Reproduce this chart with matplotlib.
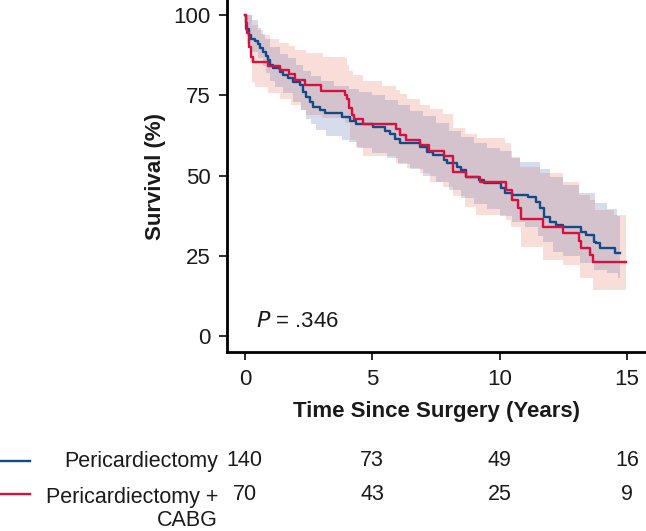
import numpy as np
import matplotlib
matplotlib.use("Agg")
import matplotlib.pyplot as plt
from matplotlib.lines import Line2D
from matplotlib.transforms import blended_transform_factory

plt.rcParams['font.family'] = ['Liberation Sans', 'DejaVu Sans']

# ---------------- data ----------------
blue_t = [0, 0.03, 0.065, 0.17, 0.26, 0.39, 0.52, 0.615, 0.72, 0.82, 0.92, 0.98, 1.09, 1.37, 1.5, 1.7, 1.9,
          2.16, 2.29, 2.42, 2.55, 2.68, 2.95, 3.14, 3.8, 4.12, 4.35, 5.03, 5.5, 5.69, 5.89, 6.1, 6.88, 7.15,
          7.4, 7.8, 7.95, 8.32, 8.48, 8.67, 9.2, 9.4, 10.05, 10.2, 10.5, 11.1, 11.44, 11.6, 11.75, 12.0, 12.2,
          12.5, 13.2, 13.4, 13.7, 13.8, 13.95, 14.55, 14.72]
blue_s = [100, 97.5, 95.8, 93.8, 92.7, 91.8, 91.0, 89.6, 88.4, 87.2, 86.0, 84.4, 83.4, 82.3, 81.3, 80.3, 79.2,
          78.2, 76.1, 74.5, 73.0, 71.4, 70.4, 69.4, 68.1, 67.1, 66.0, 65.0, 64.0, 62.9, 61.3, 60.0, 59.0, 57.4,
          56.4, 54.8, 53.8, 52.8, 51.7, 49.6, 48.6, 47.6, 46.0, 44.6, 43.9, 43.2, 41.8, 39.8, 37.2, 35.6, 34.6,
          33.9, 32.5, 31.5, 29.4, 28.9, 27.3, 25.9, 25.9]

red_t = [0, 0.04, 0.09, 0.17, 0.26, 0.33, 0.92, 1.37, 1.73, 1.96, 2.35, 3.0, 3.95, 4.02, 4.1, 4.2, 4.3, 4.65,
         5.92, 6.1, 6.34, 6.86, 7.23, 7.82, 8.18, 8.7, 9.23, 10.27, 10.47, 10.73, 10.86, 11.71, 12.5, 13.13,
         13.2, 13.55, 13.68, 14.96]
red_s = [100, 97.4, 94.3, 90.1, 87.0, 85.4, 84.1, 82.9, 81.5, 79.8, 78.2, 76.3, 75.1, 73.7, 70.9, 68.8, 67.5,
         66.0, 64.4, 62.6, 61.1, 59.5, 57.6, 56.2, 51.2, 49.6, 48.1, 45.5, 42.4, 39.9, 36.4, 34.0, 32.2, 29.5,
         27.3, 25.2, 23.2, 23.2]

blue_up_t = [0, 0.3, 0.5, 0.65, 0.8, 1.0, 1.37, 1.7, 2.0, 2.3, 2.6, 3.0, 3.5, 4.1, 4.5, 5.0, 5.5, 6.0, 6.5,
             7.0, 7.5, 8.0, 8.5, 9.0, 9.5, 10.0, 10.5, 10.8, 11.6, 12.0, 12.5, 13.1, 13.75, 14.2, 14.6, 14.72]
blue_up_s = [100, 98.5, 96, 94, 92.5, 90, 88, 86.5, 84.5, 82.5, 81, 79.5, 78, 77, 76, 75, 73.5, 72, 70,
             68.5, 66.5, 64, 62, 60, 58.5, 57.5, 55.5, 54.3, 52, 49.5, 47, 44.5, 41.5, 39.5, 37.5, 37.5]
blue_lo_t = [0, 0.05, 0.15, 0.3, 0.5, 0.7, 0.85, 1.0, 1.2, 1.5, 1.9, 2.2, 2.42, 2.6, 2.8, 3.2, 3.8, 4.1, 4.4,
             5.0, 5.6, 6.0, 6.5, 7.0, 7.5, 8.0, 8.5, 9.0, 9.5, 10.0, 10.5, 11.0, 11.5, 11.7, 12.1, 12.5, 13.15,
             13.7, 14.2, 14.65, 14.72]
blue_lo_s = [100, 94, 90.5, 88.5, 86.5, 84, 82, 79.5, 77.5, 75.6, 73, 70.5, 67.7, 66, 64.1, 62.2, 61.1, 60.5,
             58.5, 57, 55.5, 53.5, 52, 50, 48, 45.5, 43, 41, 39.5, 37.5, 35.5, 34.0, 31, 29.4, 26.3, 25, 22.7,
             20.6, 19.5, 18, 18]

red_up_t = [0, 0.3, 0.5, 0.72, 0.98, 1.35, 1.74, 1.96, 2.39, 3.07, 3.93, 4.0, 4.1, 4.23, 4.62, 5.37, 5.95, 6.1,
            6.35, 6.87, 7.26, 7.79, 8.16, 8.64, 9.1, 10.2, 10.46, 10.8, 11.6, 12.5, 13.1, 13.55, 13.75, 14.5,
            14.96]
red_up_s = [100, 97, 95.5, 93.8, 92.7, 91.4, 90.3, 89.1, 88.1, 87.0, 86.5, 84.4, 82.5, 81.3, 79.4, 77.9, 76.6,
            75.5, 74.0, 72.0, 70.6, 69.2, 64.7, 62.9, 61.6, 60.0, 55.9, 52.7, 50.7, 48.0, 44.0, 42.4, 39.3, 37.7,
            37.7]
red_lo_t = [0, 0.05, 0.1, 0.2, 0.3, 0.39, 0.92, 1.37, 1.83, 2.2, 2.42, 3.04, 3.93, 4.12, 4.38, 4.65, 5.95,
            6.35, 6.87, 7.26, 7.79, 8.18, 8.63, 9.09, 10.24, 10.46, 10.85, 11.7, 12.5, 13.15, 13.67, 14.96]
red_lo_s = [100, 95, 91, 85, 79, 77.7, 75.6, 74.0, 72.0, 70.4, 69.0, 68.0, 66.5, 61.1, 59.0, 56.1, 53.8,
            52.2, 50.7, 48.1, 46.5, 43.5, 40.3, 37.7, 36.1, 34.0, 27.8, 23.7, 22.1, 18.0, 14.3, 14.3]

groups = ["Pericardiectomy", "Pericardiectomy +\nCABG"]
risk_times = [0, 5, 10, 15]
risk_blue = [140, 73, 49, 16]
risk_red = [70, 43, 25, 9]
x_ticks = [0, 5, 10, 15]
y_ticks = [0, 25, 50, 75, 100]

BLUE = "#124b88"
RED = "#d7103f"
BLUE_BAND = "#d6dcec"
RED_BAND = "#f9ddd8"
MIX_BAND = "#d4c3cc"
TXT = "#1a1a1a"

# ---------------- figure ----------------
fig = plt.figure(figsize=(6.46, 5.31), dpi=100)
ax = fig.add_axes([227 / 646, 1 - 352 / 531, 1 - 227 / 646, 352 / 531])


def step_eval(t, s, grid):
    t = np.asarray(t); s = np.asarray(s)
    idx = np.searchsorted(t, grid, side="right") - 1
    idx = np.clip(idx, 0, len(s) - 1)
    out = s[idx].astype(float)
    out[grid > t[-1]] = np.nan
    return out


grid = np.unique(np.concatenate([blue_up_t, blue_lo_t, red_up_t, red_lo_t]))
bu = step_eval(blue_up_t, blue_up_s, grid)
bl = step_eval(blue_lo_t, blue_lo_s, grid)
ru = step_eval(red_up_t, red_up_s, grid)
rl = step_eval(red_lo_t, red_lo_s, grid)

ax.fill_between(grid, bl, bu, step="post", color=BLUE_BAND, lw=0)
ax.fill_between(grid, rl, ru, step="post", color=RED_BAND, lw=0)
lo = np.fmax(bl, rl)
hi = np.fmin(bu, ru)
valid = ~np.isnan(bu)
lo2 = np.where(valid, lo, np.nan)
hi2 = np.where(valid, np.maximum(hi, lo), np.nan)
ax.fill_between(grid, lo2, hi2, step="post", color=MIX_BAND, lw=0)

ax.step(blue_t, blue_s, where="post", color=BLUE, lw=1.7)
ax.step(red_t, red_s, where="post", color=RED, lw=1.7)

ax.set_xlim(-0.7, 15.75)
ax.set_ylim(-5, 104.7)
ax.set_xticks(x_ticks)
ax.set_yticks(y_ticks)
for sp in ["top", "right"]:
    ax.spines[sp].set_visible(False)
for sp in ["left", "bottom"]:
    ax.spines[sp].set_linewidth(2)
ax.tick_params(axis="both", length=6, width=1.3, labelsize=16, colors=TXT)
ax.tick_params(axis="y", pad=6)
ax.tick_params(axis="x", pad=6)
ax.set_ylabel("Survival (%)", fontsize=16, fontweight="bold", labelpad=5, color=TXT)
ax.set_xlabel("Time Since Surgery (Years)", fontsize=16, fontweight="bold", labelpad=8, color=TXT)

ax.text(0.45, 4.5, "$P$ = .346", fontsize=16, va="center", ha="left", color=TXT)

# risk table
RS = 15.5
tr = blended_transform_factory(ax.transData, fig.transFigure)
y1 = 1 - 461 / 531
y2 = 1 - 494 / 531
for t, n in zip(risk_times, risk_blue):
    ax.text(t, y1, str(n), transform=tr, ha="center", va="center", fontsize=RS, color=TXT)
for t, n in zip(risk_times, risk_red):
    ax.text(t, y2, str(n), transform=tr, ha="center", va="center", fontsize=RS, color=TXT)
fig.text(218 / 646, y1, groups[0], ha="right", va="center", fontsize=RS, color=TXT)
fig.text(218 / 646, y2 + 0.0135, groups[1], ha="right", va="top", fontsize=RS, color=TXT,
         linespacing=1.12)
fig.add_artist(Line2D([0, 30 / 646], [y1, y1], transform=fig.transFigure, color=BLUE, lw=1.7))
fig.add_artist(Line2D([0, 30 / 646], [y2, y2], transform=fig.transFigure, color=RED, lw=1.7))

fig.savefig("out.png", dpi=100)
